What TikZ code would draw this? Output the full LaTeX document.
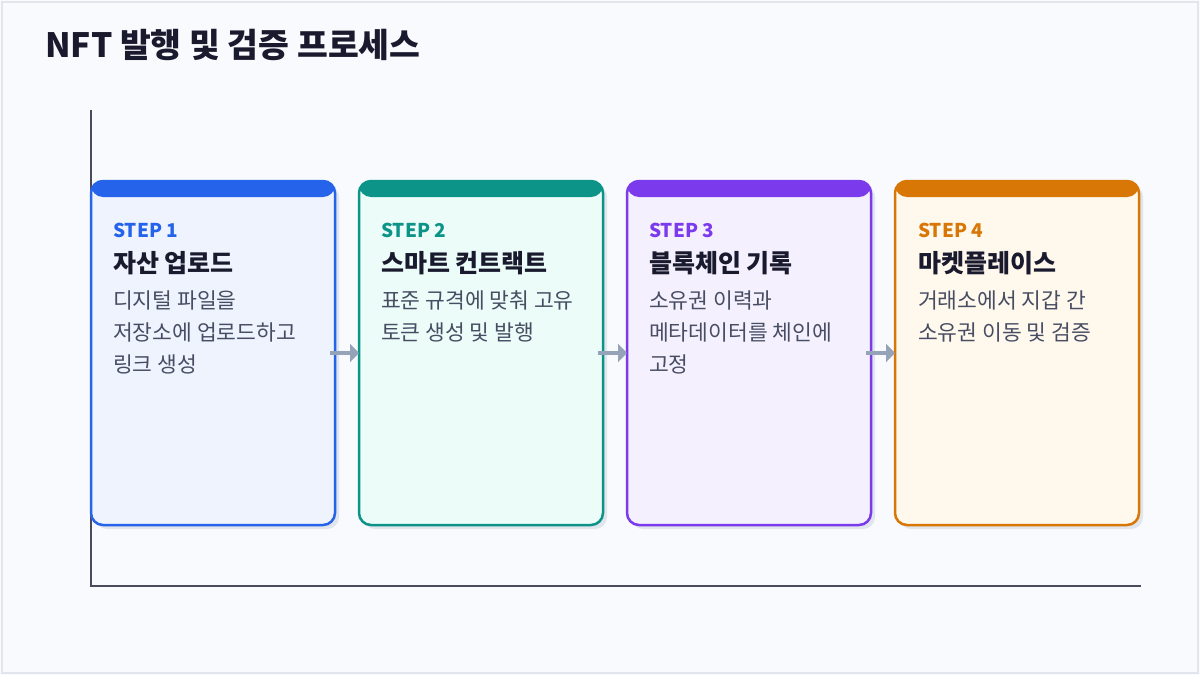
\documentclass[tikz,border=0pt]{standalone}
\usepackage{fontspec}
\setmainfont{Noto Sans CJK KR}
\usetikzlibrary{arrows.meta,shadows}
\definecolor{bg}{HTML}{F8FAFD}
\definecolor{frame}{HTML}{E2E5EC}
\definecolor{axis}{HTML}{4A4A5A}
\definecolor{ink}{HTML}{1A1A2E}
\definecolor{desc}{HTML}{474D63}
\definecolor{arrowc}{HTML}{94A3B8}
\definecolor{shadowc}{HTML}{E1E5EC}
\definecolor{cA}{HTML}{2563EB}\definecolor{fA}{HTML}{EEF3FE}
\definecolor{cB}{HTML}{0D9488}\definecolor{fB}{HTML}{ECFDF9}
\definecolor{cC}{HTML}{7C3AED}\definecolor{fC}{HTML}{F5F0FE}
\definecolor{cD}{HTML}{D97706}\definecolor{fD}{HTML}{FFF8EC}
\tikzset{
  stepbox/.style 2 args={draw=#1, fill=#2, line width=2.5pt, rounded corners=12pt,
    minimum width=244pt, minimum height=344pt, inner sep=0pt, outer sep=0pt,
    drop shadow={shadow xshift=4pt, shadow yshift=-4pt, fill=shadowc, opacity=1},
    path picture={\fill[#1] (path picture bounding box.north west) rectangle ([yshift=-16pt]path picture bounding box.north east);}},
  steplabel/.style={anchor=base west, inner sep=0pt, font=\bfseries\fontsize{19}{21}\selectfont, text=#1},
  steptitle/.style={anchor=base west, inner sep=0pt, font=\bfseries\fontsize{25}{28}\selectfont, text=ink},
  stepdesc/.style={anchor=base west, inner sep=0pt, font=\fontsize{21.5}{32}\selectfont, text=desc, align=left},
  flow/.style={draw=arrowc, line width=4pt, -{Triangle[length=9pt,width=18pt]}}
}
\begin{document}
\begin{tikzpicture}[x=1pt,y=-1pt]
\useasboundingbox (0,0) rectangle (1200,675);
\fill[bg] (0,0) rectangle (1200,675);
\draw[frame, line width=2pt] (2,2) rectangle (1198,673);
\node[anchor=base west, inner sep=0pt, font=\bfseries\fontsize{33.5}{38}\selectfont, text=ink] (title) at (45,57) {NFT 발행 및 검증 프로세스};
\coordinate (ytop) at (91,110);
\coordinate (origin) at (91,586);
\coordinate (xend) at (1141,586);
\draw[axis, line width=2pt] (ytop) -- (origin) -- (xend);

\node[stepbox={cA}{fA}] (s1) at (213,353) {};
\node[stepbox={cB}{fB}] (s2) at (481,353) {};
\node[stepbox={cC}{fC}] (s3) at (749,353) {};
\node[stepbox={cD}{fD}] (s4) at (1017,353) {};

\node[steplabel=cA] (l1) at (113,237) {STEP 1};
\node[steptitle] (t1) at (113,272) {자산 업로드};
\node[stepdesc] (d1a) at (113,308) {디지털 파일을};
\node[stepdesc] (d1b) at (113,340) {저장소에 업로드하고};
\node[stepdesc] (d1c) at (113,372) {링크 생성};

\node[steplabel=cB] (l2) at (381,237) {STEP 2};
\node[steptitle] (t2) at (381,272) {스마트 컨트랙트};
\node[stepdesc] (d2a) at (381,308) {표준 규격에 맞춰 고유};
\node[stepdesc] (d2b) at (381,340) {토큰 생성 및 발행};

\node[steplabel=cC] (l3) at (649,237) {STEP 3};
\node[steptitle] (t3) at (649,272) {블록체인 기록};
\node[stepdesc] (d3a) at (649,308) {소유권 이력과};
\node[stepdesc] (d3b) at (649,340) {메타데이터를 체인에};
\node[stepdesc] (d3c) at (649,372) {고정};

\node[steplabel=cD] (l4) at (918,237) {STEP 4};
\node[steptitle] (t4) at (918,272) {마켓플레이스};
\node[stepdesc] (d4a) at (918,308) {거래소에서 지갑 간};
\node[stepdesc] (d4b) at (918,340) {소유권 이동 및 검증};

\draw[flow] ([xshift=-5pt]s1.east) -- (s2.west);
\draw[flow] ([xshift=-5pt]s2.east) -- (s3.west);
\draw[flow] ([xshift=-5pt]s3.east) -- (s4.west);
\end{tikzpicture}
\end{document}
